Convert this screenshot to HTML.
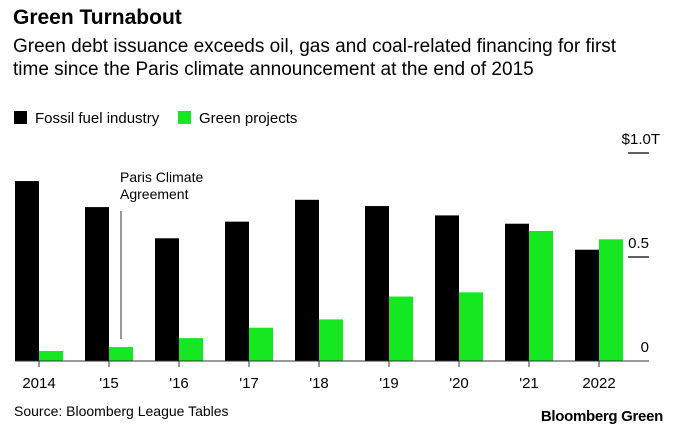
<!DOCTYPE html>
<html><head><meta charset="utf-8"><style>
body{margin:0;background:#fff;font-family:"Liberation Sans",Arial,sans-serif;}
#wrap{position:relative;width:679px;height:433px;overflow:hidden;}
.t{position:absolute;white-space:nowrap;color:#000;}
</style></head><body>
<div id="wrap">
<div class="t" style="left:13px;top:6px;font-size:21px;font-weight:bold;">Green Turnabout</div>
<div class="t" style="left:13px;top:35px;font-size:19px;line-height:23px;">Green debt issuance exceeds oil, gas and coal-related financing for first<br>time since the Paris climate announcement at the end of 2015</div>
<div class="t" style="left:14px;top:110px;font-size:15px;"><span style="display:inline-block;width:13px;height:13px;background:#000;vertical-align:-1px;margin-right:8px"></span>Fossil fuel industry</div>
<div class="t" style="left:178px;top:110px;font-size:15px;"><span style="display:inline-block;width:13px;height:13px;background:#15e821;vertical-align:-1px;margin-right:8px"></span>Green projects</div>
<svg id="chart" width="679" height="433" style="position:absolute;left:0;top:0"></svg>
<div class="t" style="left:14px;top:403px;font-size:14px;">Source: Bloomberg League Tables</div>
<div class="t" style="right:16px;top:408px;font-size:15px;font-weight:bold;letter-spacing:-0.3px">Bloomberg Green</div>
</div>
<script>
const categories=["2014","'15","'16","'17","'18","'19","'20","'21","2022"];
const fossil=[0.865,0.74,0.59,0.67,0.775,0.745,0.70,0.66,0.535];
const green=[0.048,0.067,0.11,0.16,0.20,0.31,0.33,0.625,0.585];
const yTicks=[0,0.5,1.0];
const yTickLabels=["0","0.5","$1.0T"];
const svg=document.getElementById('chart');
const NS='http://www.w3.org/2000/svg';
const y0=361,pxPerUnit=208,x0=15,step=70,bw=24;
const yScale=v=>y0-v*pxPerUnit;
const xScale=i=>x0+i*step;
function mk(tag,attrs){const e=document.createElementNS(NS,tag);for(const k in attrs)e.setAttribute(k,attrs[k]);svg.appendChild(e);return e;}
yTicks.forEach((v,i)=>{
  if(v>0){const l=mk('line',{x1:628,x2:649,y1:yScale(v),y2:yScale(v),stroke:'#000','stroke-width':1.3});
  
  }
  const t=mk('text',{x:(v===1?660:649),y:yScale(v)-9,'text-anchor':'end','font-size':15,'font-family':'Liberation Sans, sans-serif'});
  t.textContent=yTickLabels[i];
  
  
});
categories.forEach((c,i)=>{
  const x=xScale(i);
  const b=mk('rect',{x:x,y:yScale(fossil[i]),width:bw,height:fossil[i]*pxPerUnit,fill:'#000'});
  
  
  const g=mk('rect',{x:x+bw,y:yScale(green[i]),width:bw,height:green[i]*pxPerUnit,fill:'#15e821'});
  
  
  const tk=mk('line',{x1:x+bw,x2:x+bw,y1:y0,y2:y0+6,stroke:'#333','stroke-width':1});
  
  
  const t=mk('text',{x:x+bw,y:388,'text-anchor':'middle','font-size':15,'font-family':'Liberation Sans, sans-serif'});
  t.textContent=c;
  
  
});
const ax=mk('line',{x1:15,x2:649,y1:y0,y2:y0,stroke:'#333','stroke-width':1});


const an=mk('line',{x1:121,x2:121,y1:211,y2:339,stroke:'#333','stroke-width':1});


['Paris Climate','Agreement'].forEach((s,i)=>{
  const t=mk('text',{x:120,y:182+i*17,'font-size':14,'font-family':'Liberation Sans, sans-serif'});
  t.textContent=s;
  
  
});
</script>
</body></html>
